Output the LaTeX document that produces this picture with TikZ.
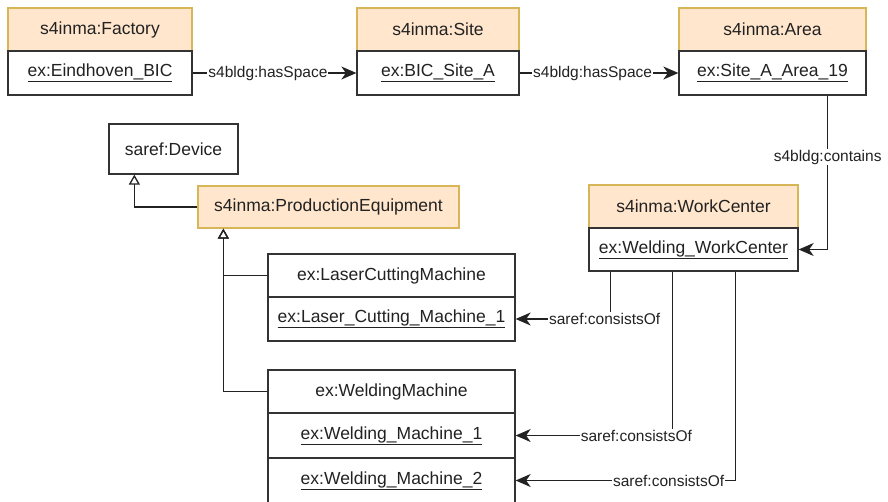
\documentclass[tikz,border=0pt]{standalone}
\usepackage{fontspec}
\setmainfont{Liberation Sans}
\usetikzlibrary{calc,arrows.meta}
\definecolor{hdrfill}{HTML}{FFE6CC}
\definecolor{hdrline}{HTML}{D6B656}
\definecolor{boxline}{HTML}{333333}
\definecolor{ink}{HTML}{222222}
\newcommand{\ul}[1]{\underline{#1}}
\begin{document}
\begin{tikzpicture}[x=1pt,y=-1pt,
 box/.style={draw=boxline, line width=1.3pt, fill=white, inner sep=0pt, font=\fontsize{17.5}{19}\selectfont, text=ink},
 hdr/.style={box, draw=hdrline, fill=hdrfill},
 lbl/.style={fill=white, inner sep=1pt, font=\fontsize{15.5}{17}\selectfont, text=ink},
 rel/.style={draw=ink, line width=1.3pt, -{Stealth[length=15pt,width=13pt,inset=4.5pt]}},
 inh/.style={draw=ink, line width=1.3pt, -{Triangle[open,length=10pt,width=11pt]}},
]
\useasboundingbox (0,0) rectangle (888,501);
\clip (0,0) rectangle (888,501);
\fill[white] (0,0) rectangle (888,501);

% Factory
\node[hdr, minimum width=184pt, minimum height=43pt] (facH) at (100,29.5) {s4inma:Factory};
\node[box, minimum width=184pt, minimum height=44pt] (facB) at (100,73) {\ul{ex:Eindhoven\_BIC}};
% Site
\node[hdr, minimum width=162pt, minimum height=43pt] (siteH) at (438,29.5) {s4inma:Site};
\node[box, minimum width=162pt, minimum height=44pt] (siteB) at (438,73) {\ul{ex:BIC\_Site\_A}};
% Area
\node[hdr, minimum width=187pt, minimum height=43pt] (areaH) at (772.5,29.5) {s4inma:Area};
\node[box, minimum width=187pt, minimum height=44pt] (areaB) at (772.5,73) {\ul{ex:Site\_A\_Area\_19}};
% WorkCenter
\node[hdr, minimum width=209pt, minimum height=43pt] (wcH) at (693.5,206.5) {s4inma:WorkCenter};
\node[box, minimum width=209pt, minimum height=43pt] (wcB) at (693.5,249.5) {\ul{ex:Welding\_WorkCenter}};
% Device & ProductionEquipment
\node[box, minimum width=129pt, minimum height=50pt] (dev) at (173.5,149) {saref:Device};
\node[hdr, minimum width=261pt, minimum height=42pt] (pe) at (328.5,207) {s4inma:ProductionEquipment};
% LaserCuttingMachine
\node[box, minimum width=247pt, minimum height=43pt] (lcmH) at (391.5,275.5) {ex:LaserCuttingMachine};
\node[box, minimum width=247pt, minimum height=44pt] (lcmB) at (391.5,319) {\ul{ex:Laser\_Cutting\_Machine\_1}};
% WeldingMachine
\node[box, minimum width=247pt, minimum height=43pt] (wmH) at (391.5,391.5) {ex:WeldingMachine};
\node[box, minimum width=247pt, minimum height=45pt] (wm1) at (391.5,435.5) {\ul{ex:Welding\_Machine\_1}};
\node[box, minimum width=247pt, minimum height=45pt] (wm2) at (391.5,480.5) {\ul{ex:Welding\_Machine\_2}};

% hasSpace
\draw[rel] (facB.east) -- node[lbl, pos=0.46] {s4bldg:hasSpace} (siteB.west);
\draw[rel] (siteB.east) -- node[lbl, pos=0.46] {s4bldg:hasSpace} (areaB.west);
% contains
\coordinate (cA) at ($(areaB.south east)+(-39,0)$);
\draw[rel] (cA) |- node[lbl, pos=0.2] {s4bldg:contains} (wcB.east);

% inheritance
\coordinate (dT) at ($(dev.south west)+(26,0)$);
\draw[inh] (pe.west) -| (dT);
\coordinate (pT) at ($(pe.south west)+(26,0)$);
\draw[inh] (lcmH.west) -| (pT);
\draw[inh] (wmH.west) -| (pT);

% consistsOf
\coordinate (c1) at ($(wcB.south west)+(22,0)$);
\coordinate (c2) at ($(wcB.south west)+(84,0)$);
\coordinate (c3) at ($(wcB.south west)+(147,0)$);
\draw[rel] (c1) |- node[lbl, pos=0.53] {saref:consistsOf} (lcmB.east);
\draw[rel] (c2) |- node[lbl, pos=0.615] {saref:consistsOf} (wm1.east);
\draw[rel] (c3) |- node[lbl, pos=0.652] {saref:consistsOf} (wm2.east);
\end{tikzpicture}
\end{document}
